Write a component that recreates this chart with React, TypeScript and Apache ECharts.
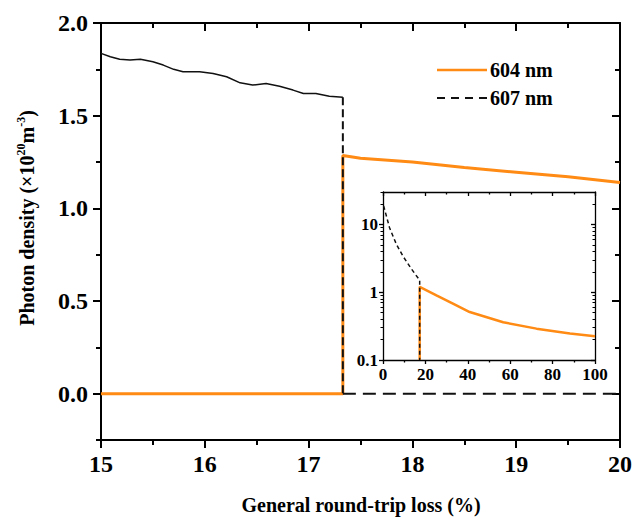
import React, { useEffect, useRef } from "react";
import * as echarts from "echarts";

// ---- main panel data ----
const lossMin = 15;
const lossMax = 20;
const jumpLoss = 17.33;
const mainYTicks = [0, 0.5, 1.0, 1.5, 2.0];

// 607 nm lasing branch (before the switch)
const loss607 = [15.0, 15.09, 15.18, 15.28, 15.38, 15.5, 15.6, 15.7, 15.79, 15.95, 16.08, 16.21, 16.34, 16.46, 16.59, 16.72, 16.85, 16.95, 17.07, 17.2, 17.33];
const dens607 = [1.836, 1.818, 1.804, 1.8, 1.804, 1.791, 1.773, 1.75, 1.737, 1.737, 1.728, 1.71, 1.677, 1.665, 1.674, 1.659, 1.638, 1.62, 1.62, 1.605, 1.6];

// 604 nm lasing branch (after the switch)
const loss604 = [17.33, 17.5, 18.0, 18.5, 19.0, 19.5, 20.0];
const dens604 = [1.285, 1.27, 1.25, 1.22, 1.195, 1.17, 1.14];

// ---- inset data (log scale) ----
const insetJump = 17.3;
const insetLoss607 = [0.3, 3.1, 6.3, 9.4, 13.4, 17.3];
const insetDens607 = [18.7, 8.9, 5.1, 3.4, 2.2, 1.5];
const insetLoss604 = [17.3, 25.2, 33.0, 40.9, 56.7, 72.4, 88.2, 100];
const insetDens604 = [1.2, 0.9, 0.68, 0.51, 0.36, 0.29, 0.245, 0.224];
const insetYLabels = [0.1, 1, 10];
const insetYMinor = [0.2, 0.3, 0.4, 0.5, 0.6, 0.7, 0.8, 0.9, 2, 3, 4, 5, 6, 7, 8, 9, 20, 30];

const ORANGE = "#ff8a14";
const FONT = "'Liberation Serif', 'Times New Roman', serif";

const zip = (xs: number[], ys: number[]) => xs.map((x, i) => [x, ys[i]]);

export default function App() {
  const ref = useRef<HTMLDivElement>(null);
  useEffect(() => {
    if (!ref.current) return;
    const chart = echarts.init(ref.current, null, { renderer: "svg" });

    const mainLabel = { fontFamily: FONT, fontWeight: "bold", fontSize: 24, color: "#000" };
    const insetLabel = { fontFamily: FONT, fontWeight: "bold", fontSize: 17, color: "#000" };
    const L = (w: number) => ({ lineStyle: { color: "#000", width: w } });

    const xMain = (pos: string, inside: boolean, labels: boolean) => ({
      type: "value", gridIndex: 0, position: pos, min: lossMin, max: lossMax, interval: 1,
      axisLine: { show: true, onZero: false, ...L(2) },
      axisTick: { show: true, inside, length: 8, ...L(2) },
      minorTick: { show: true, splitNumber: 2, length: 5, ...L(2) },
      axisLabel: { show: labels, margin: 12, ...mainLabel },
      splitLine: { show: false },
    });
    const yMainMajor = (pos: string, inside: boolean, labels: boolean) => ({
      type: "value", gridIndex: 0, position: pos, min: -0.25, max: 2,
      axisLine: { show: true, onZero: false, ...L(2) },
      axisTick: { show: true, inside, length: 8, customValues: mainYTicks, ...L(2) },
      axisLabel: { show: labels, margin: 13, customValues: mainYTicks, ...mainLabel, formatter: (v: number) => v.toFixed(1) },
      splitLine: { show: false },
    });
    const yMainMinor = (pos: string, inside: boolean) => ({
      type: "value", gridIndex: 0, position: pos, min: -0.25, max: 2, interval: 0.25,
      axisLine: { show: false, onZero: false },
      axisTick: { show: true, inside, length: 5, ...L(2) },
      axisLabel: { show: false },
      splitLine: { show: false },
    });
    const xInset = (pos: string, inside: boolean, labels: boolean) => ({
      type: "value", gridIndex: 1, position: pos, min: 0, max: 100, interval: 20,
      axisLine: { show: true, onZero: false, ...L(1.3) },
      axisTick: { show: true, inside, length: 4, ...L(1.3) },
      minorTick: { show: true, splitNumber: 2, length: 2.5, ...L(1.3) },
      axisLabel: { show: labels, margin: 6, ...insetLabel },
      splitLine: { show: false },
    });
    const yInsetMajor = (pos: string, inside: boolean, labels: boolean) => ({
      type: "log", gridIndex: 1, position: pos, min: 0.1, max: 30, logBase: 10,
      axisLine: { show: true, onZero: false, ...L(1.3) },
      axisTick: { show: true, inside, length: 4, customValues: insetYLabels, ...L(1.3) },
      axisLabel: { show: labels, margin: 5, customValues: insetYLabels, ...insetLabel, formatter: (v: number) => String(v) },
      splitLine: { show: false },
    });
    const yInsetMinor = (pos: string, inside: boolean) => ({
      type: "log", gridIndex: 1, position: pos, min: 0.1, max: 30, logBase: 10,
      axisLine: { show: false, onZero: false },
      axisTick: { show: true, inside, length: 2.5, customValues: insetYMinor, ...L(1) },
      axisLabel: { show: false },
      splitLine: { show: false },
    });

    const lasingEnd = dens607[dens607.length - 1];

    chart.setOption({
      animation: false,
      backgroundColor: "#fff",
      grid: [
        { left: 101, right: 14, top: 23, bottom: 77 },
        { left: 383, top: 192, width: 212, height: 168, show: true, backgroundColor: "#fff", borderWidth: 0 },
      ],
      xAxis: [
        xMain("bottom", false, true),
        xMain("top", true, false),
        xInset("bottom", false, true),
        xInset("top", true, false),
      ],
      yAxis: [
        yMainMajor("left", false, true),
        yMainMinor("left", false),
        yMainMajor("right", true, false),
        yMainMinor("right", true),
        yInsetMajor("left", false, true),
        yInsetMinor("left", false),
        yInsetMajor("right", true, false),
        yInsetMinor("right", true),
      ],
      series: [
        {
          name: "604 nm", type: "line", xAxisIndex: 0, yAxisIndex: 0, symbol: "none", z: 2,
          lineStyle: { color: ORANGE, width: 3 },
          data: [[lossMin, 0], [jumpLoss, 0], ...zip(loss604, dens604)],
        },
        {
          name: "607 nm", type: "line", xAxisIndex: 0, yAxisIndex: 0, symbol: "none", z: 3,
          lineStyle: { color: "#111", width: 1.5 },
          data: zip(loss607, dens607),
        },
        {
          name: "607 nm", type: "line", xAxisIndex: 0, yAxisIndex: 0, symbol: "none", z: 3,
          lineStyle: { color: "#111", width: 2, type: [8, 4] },
          data: [[jumpLoss, lasingEnd], [jumpLoss, 0]],
        },
        {
          name: "607 nm", type: "line", xAxisIndex: 0, yAxisIndex: 0, symbol: "none", z: 3,
          lineStyle: { color: "#111", width: 2, type: [13, 7] },
          data: [[jumpLoss, 0], [lossMax, 0]],
        },
        {
          name: "604 nm inset", type: "line", xAxisIndex: 2, yAxisIndex: 4, symbol: "none", z: 4,
          lineStyle: { color: ORANGE, width: 2.5 },
          data: [[insetJump, 0.1], ...zip(insetLoss604, insetDens604)],
        },
        {
          name: "607 nm inset", type: "line", xAxisIndex: 2, yAxisIndex: 4, symbol: "none", z: 5,
          lineStyle: { color: "#111", width: 1.5, type: [4, 3] },
          data: [...zip(insetLoss607, insetDens607), [insetJump, 0.1]],
        },
      ],
      graphic: [
        { type: "line", shape: { x1: 437, y1: 70, x2: 487, y2: 70 }, style: { stroke: ORANGE, lineWidth: 2.5 } },
        { type: "line", shape: { x1: 437, y1: 98, x2: 487, y2: 98 }, style: { stroke: "#111", lineWidth: 2, lineDash: [8, 6] } },
        { type: "text", x: 490, y: 70, style: { text: "604 nm", fontFamily: FONT, fontWeight: "bold", fontSize: 20, fill: "#000", verticalAlign: "middle", align: "left" } },
        { type: "text", x: 490, y: 98, style: { text: "607 nm", fontFamily: FONT, fontWeight: "bold", fontSize: 20, fill: "#000", verticalAlign: "middle", align: "left" } },
        { type: "text", x: 361, y: 505, style: { text: "General round-trip loss (%)", fontFamily: FONT, fontWeight: "bold", fontSize: 20, fill: "#000", verticalAlign: "middle", align: "center" } },
        {
          type: "text", x: 27, y: 218, rotation: Math.PI / 2,
          style: {
            text: "Photon density (×10{sup|20}m{sup|-3})",
            fontFamily: FONT, fontWeight: "bold", fontSize: 20, fill: "#000", lineHeight: 24,
            verticalAlign: "middle", align: "center",
            rich: { sup: { fontFamily: FONT, fontWeight: "bold", fontSize: 12, lineHeight: 14, verticalAlign: "top", fill: "#000" } },
          },
        },
      ],
    });
    return () => chart.dispose();
  }, []);
  return <div ref={ref} style={{ position: "fixed", left: 0, top: 0, width: 635, height: 517 }} />;
}
